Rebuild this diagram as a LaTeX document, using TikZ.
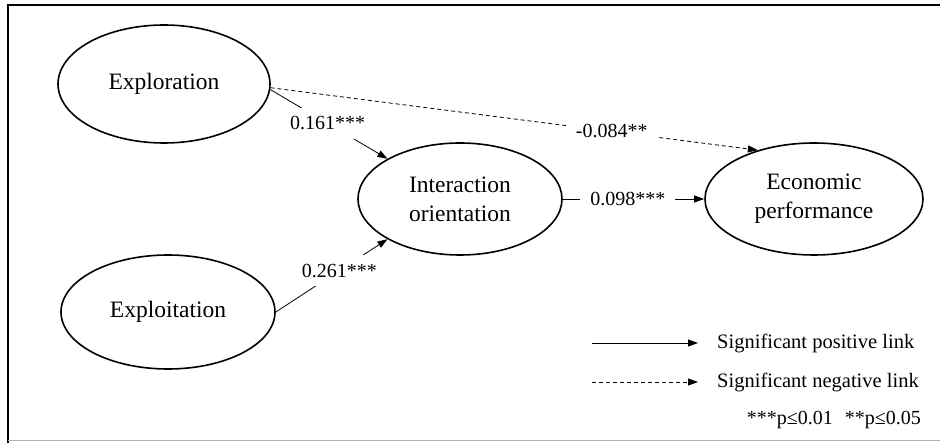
\documentclass[tikz,border=0pt]{standalone}
\usepackage{fontspec}
\setmainfont{Liberation Serif}
\usetikzlibrary{shapes.geometric,arrows.meta}
\begin{document}
\begin{tikzpicture}[x=1pt,y=-1pt,
  construct/.style={draw,ellipse,line width=1.6pt,inner sep=0pt,align=center,
    font=\fontsize{23.5}{29}\selectfont},
  link/.style={line width=0.8pt,-{Triangle[length=10pt,width=7pt]}},
  neglink/.style={link,dash pattern=on 4pt off 3pt},
  coef/.style={fill=white,inner xsep=10pt,inner ysep=2pt,font=\fontsize{20}{24}\selectfont},
  diagcoef/.style={coef,inner xsep=6pt,inner ysep=9pt},
  legtext/.style={anchor=west,inner sep=0pt,font=\fontsize{20.5}{24}\selectfont}]
\useasboundingbox (0,0) rectangle (940,443);
\draw[line width=1.5pt] (8,443) -- (8,5) -- (940,5);
\draw[gray!60,line width=1pt] (8,441) -- (940,441);

\node[construct,minimum width=212pt,minimum height=118pt] (expl) at (164,84) {Exploration};
\node[construct,minimum width=214pt,minimum height=114pt] (expt) at (168,312) {Exploitation};
\node[construct,minimum width=204pt,minimum height=112pt] (inter) at (460,199) {Interaction\\orientation};
\node[construct,minimum width=218pt,minimum height=112pt] (econ) at (814,199) {Economic\\performance};

\draw[link] (expl.-3) -- node[diagcoef,pos=0.49] {0.161***} (inter.151);
\draw[link] (expt.east) -- node[diagcoef,pos=0.57] {0.261***} (inter.209);
\draw[neglink] (expl.-2) -- node[coef,pos=0.70] {-0.084**} (econ.139);
\draw[link] (inter.east) -- node[coef,pos=0.46] {0.098***} (econ.west);

\coordinate (p1) at (592,343);
\coordinate (p2) at (698,343);
\coordinate (n1) at (592,382);
\coordinate (n2) at (698,382);
\draw[link] (p1) -- (p2);
\draw[neglink] (n1) -- (n2);
\node[legtext] (lp) at (717,343) {Significant positive link};
\node[legtext] (ln) at (717,382) {Significant negative link};
\node[anchor=east,inner sep=0pt,font=\fontsize{20}{24}\selectfont] (sig) at (921,420) {***p≤0.01\hspace{12pt}**p≤0.05};
\end{tikzpicture}
\end{document}
